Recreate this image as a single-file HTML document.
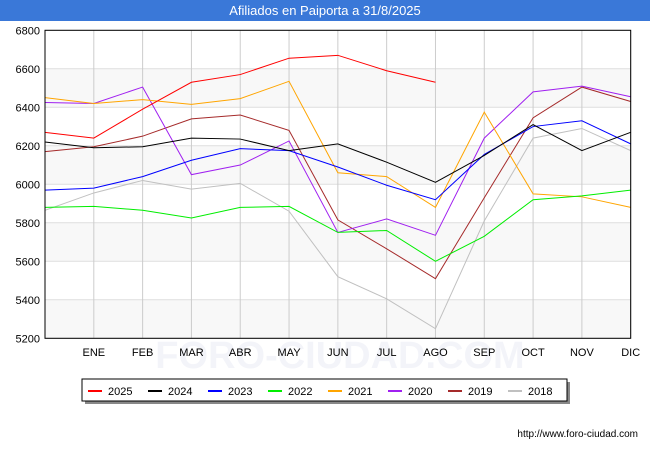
<!DOCTYPE html>
<html><head><meta charset="utf-8"><style>
body{margin:0;width:650px;height:450px;background:#fff;font-family:"Liberation Sans",sans-serif;overflow:hidden}
</style></head><body>
<svg width="650" height="450" xmlns="http://www.w3.org/2000/svg">
<rect x="0" y="0" width="650" height="21" fill="#3a78d8"/>
<text x="325" y="15" text-anchor="middle" font-size="13" fill="#fff">Afiliados en Paiporta a 31/8/2025</text>
<text x="340" y="368" text-anchor="middle" font-size="38" fill="#f3f4f9" font-weight="bold">FORO-CIUDAD.COM</text>
<g id="plot"></g>
<text x="638" y="437" text-anchor="end" font-size="10" fill="#000">http://www.foro-ciudad.com</text>
</svg>
<script>
const months=["","ENE","FEB","MAR","ABR","MAY","JUN","JUL","AGO","SEP","OCT","NOV","DIC"];
const yTicks=[5200,5400,5600,5800,6000,6200,6400,6600,6800];
const seriesNames=["2025","2024","2023","2022","2021","2020","2019","2018"];
const seriesColors=["#ff0000","#000000","#0000ff","#00ee00","#ffa500","#a020f0","#a52a2a","#c0c0c0"];
const s2025=[6270,6240,6390,6530,6570,6655,6670,6590,6530];
const s2024=[6220,6190,6195,6240,6235,6175,6210,6115,6010,6150,6310,6175,6270];
const s2023=[5970,5980,6040,6125,6185,6175,6090,5995,5920,6155,6300,6330,6210];
const s2022=[5880,5885,5865,5825,5880,5885,5750,5760,5600,5730,5920,5940,5970];
const s2021=[6450,6420,6440,6415,6445,6535,6060,6040,5880,6375,5950,5935,5880];
const s2020=[6425,6420,6505,6050,6100,6225,5750,5820,5735,6240,6480,6510,6455];
const s2019=[6170,6195,6250,6340,6360,6280,5815,5665,5510,5930,6345,6505,6430];
const s2018=[5865,5955,6020,5975,6005,5860,5520,5405,5250,5810,6240,6290,6175];
const allSeries=[s2025,s2024,s2023,s2022,s2021,s2020,s2019,s2018];
const L=45,R=630.7,T=30.3,B=338.3,ymin=5200,ymax=6800;
const xs=i=>L+i*(R-L)/12;
const ys=v=>B-(v-ymin)/(ymax-ymin)*(B-T);
const NS="http://www.w3.org/2000/svg";
const g=document.getElementById('plot');
function mk(tag,at,parent){const e=document.createElementNS(NS,tag);for(const k in at)e.setAttribute(k,at[k]);(parent||g).appendChild(e);return e;}
for(let i=0;i<yTicks.length-1;i++){
  if(i%2===0){const b=mk('rect',{x:L,y:ys(yTicks[i+1]),width:R-L,height:ys(yTicks[i])-ys(yTicks[i+1]),fill:'#f8f8f8'});
  
  }
}
yTicks.forEach(v=>{
  const l=mk('line',{x1:L,x2:R,y1:ys(v),y2:ys(v),stroke:'#ddd','stroke-width':1});
  
  
  const t=mk('text',{x:L-5,y:ys(v)+4,'text-anchor':'end','font-size':11,fill:'#000'});
  t.textContent=v;
  
  
});
months.forEach((m,i)=>{
  if(i>0){const l=mk('line',{x1:xs(i),x2:xs(i),y1:T,y2:B,stroke:'#ccc','stroke-width':1});
  
  
  const t=mk('text',{x:xs(i),y:356,'text-anchor':'middle','font-size':11,fill:'#000'});
  t.textContent=m;
  
  }
});
for(let k=allSeries.length-1;k>=0;k--){
  const pts=allSeries[k].map((v,i)=>xs(i)+','+ys(v)).join(' ');
  const p=mk('polyline',{points:pts,fill:'none',stroke:seriesColors[k],'stroke-width':1});
  
  
}
const fr=mk('rect',{x:L,y:T,width:R-L,height:B-T,fill:'none',stroke:'#000','stroke-width':1});


const lg=mk('g',{});


mk('rect',{x:85,y:382,width:485,height:22,fill:'#888'},lg);
mk('rect',{x:82,y:379,width:485,height:22,fill:'#fff',stroke:'#000','stroke-width':1},lg);
seriesNames.forEach((n,k)=>{
  const x0=88+k*60;
  const e=mk('g',{},lg);
  
  
  mk('line',{x1:x0,x2:x0+14,y1:391,y2:391,stroke:seriesColors[k],'stroke-width':2},e);
  const t=mk('text',{x:x0+20,y:395,'font-size':11,fill:'#000'},e);
  t.textContent=n;
});
</script>
</body></html>
